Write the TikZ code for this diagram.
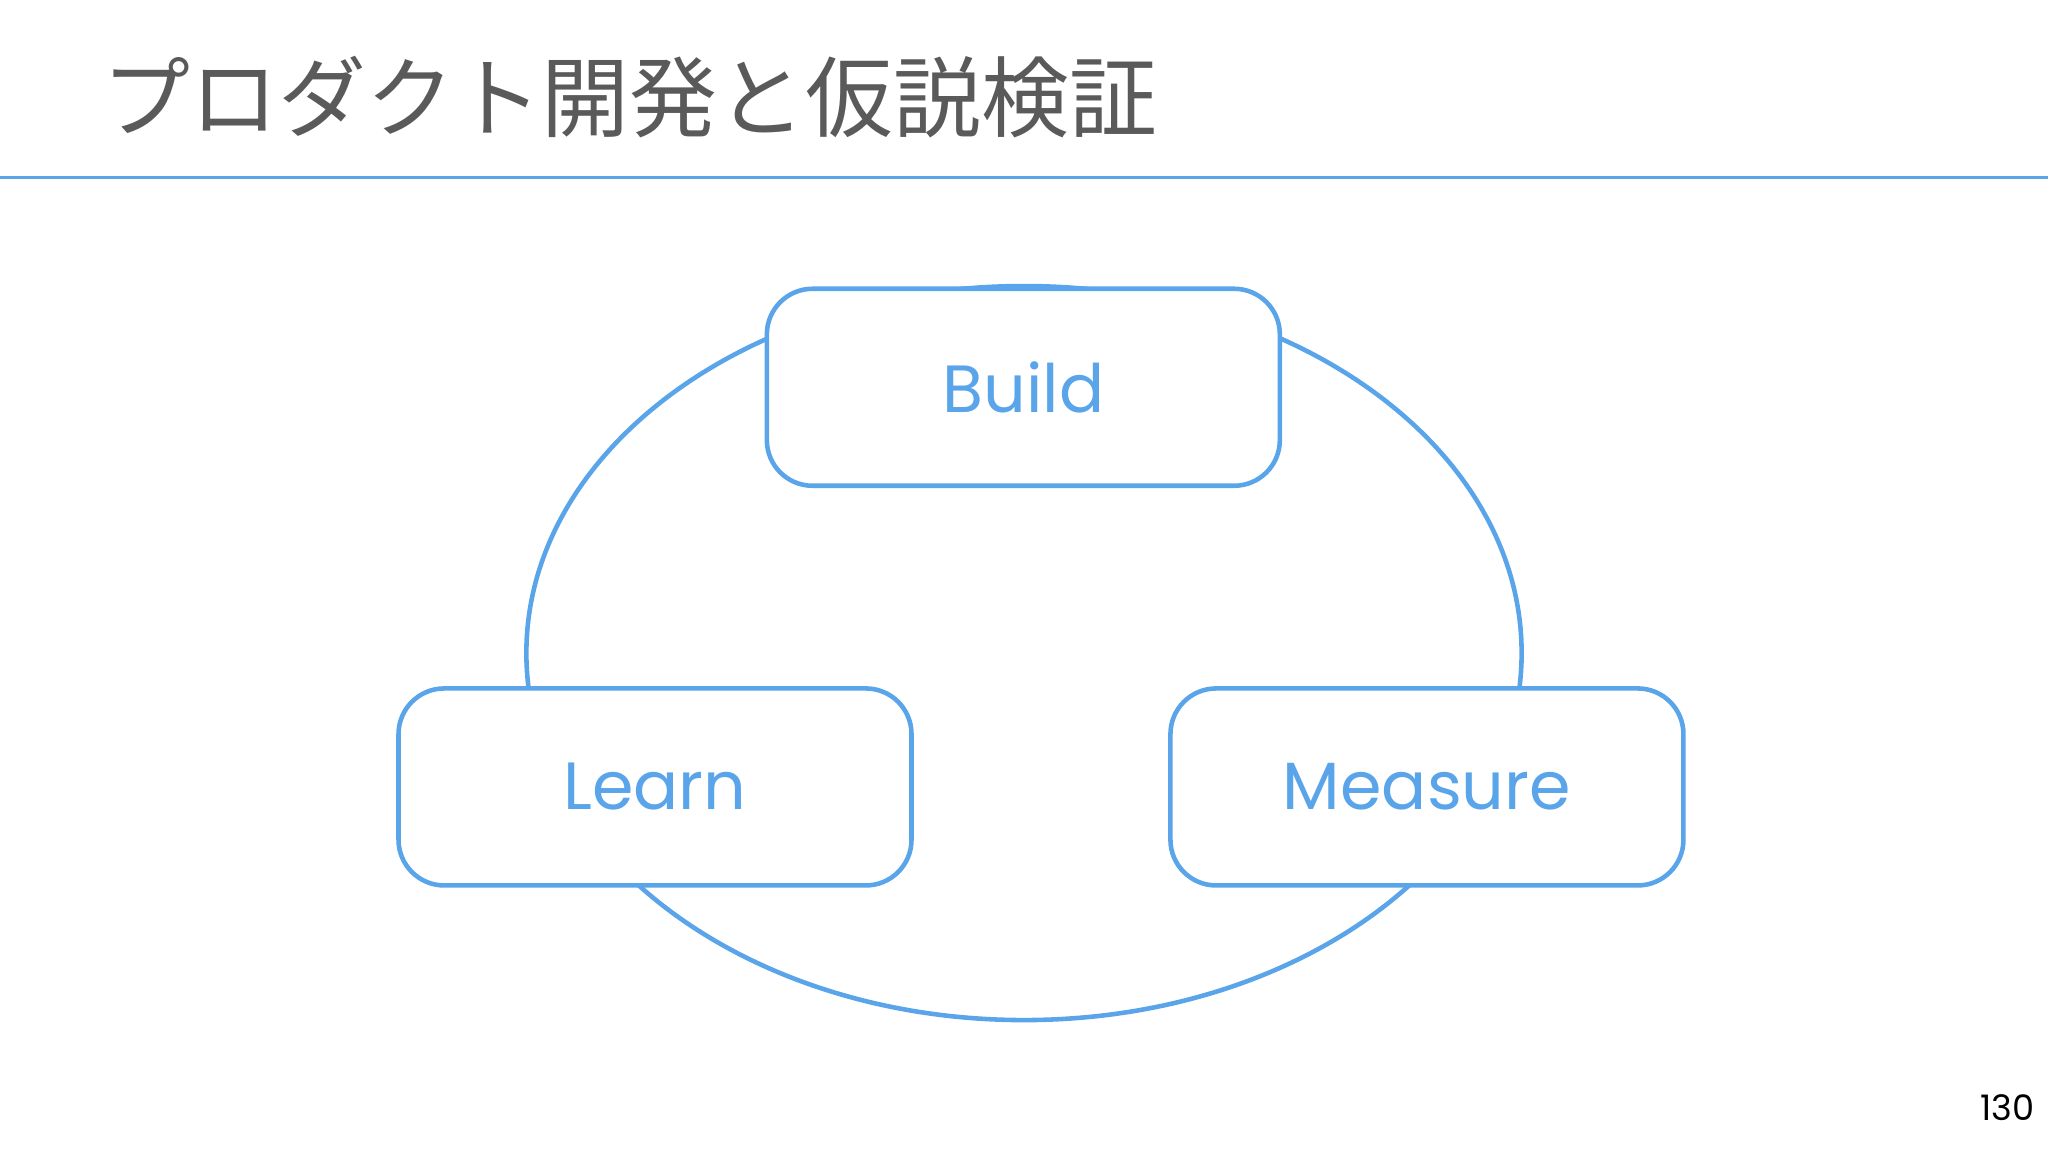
\documentclass[tikz,border=0pt]{standalone}
\usepackage{fontspec}
\setmainfont{Poppins}
\newfontfamily\cjk{Noto Sans CJK JP}
\usetikzlibrary{positioning}
\definecolor{cycleblue}{HTML}{5AA5EA}
\definecolor{titlegray}{HTML}{5A5A5A}
\tikzset{
stepbox/.style={draw=cycleblue, line width=1.3pt, fill=white, rounded corners=13pt,
  minimum width=5.13cm, minimum height=1.97cm, text=cycleblue,
  font=\fontsize{19}{22}\selectfont}
}
\begin{document}
\begin{tikzpicture}[x=0.013061cm, y=-0.013061cm]
\useasboundingbox (0,0) rectangle (1568,882);

% Title
\node[anchor=base west, inner sep=0, text=titlegray, font=\cjk\fontsize{25}{28}\selectfont] (title) at (78,100) {プロダクト開発と仮説検証};
\draw[cycleblue, line width=1pt] (0,136) -- (1568,136);

% Cycle
\draw[cycleblue, line width=1.3pt] (784,500) ellipse [x radius=381, y radius=281];

% Boxes
\node[stepbox] (build) at (783.5,296.5) {Build};
\node[stepbox] (learn) at (501.5,602.5) {Learn};
\node[stepbox] (measure) at (1092.5,602.5) {Measure};

% Page number
\node[anchor=base east, inner sep=0, font=\fontsize{10}{12}\selectfont] (page) at (1558,858) {130};
\end{tikzpicture}
\end{document}
